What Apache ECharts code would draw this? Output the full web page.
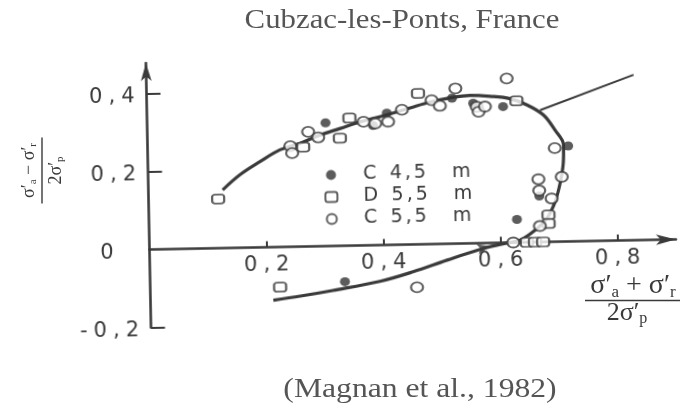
<!DOCTYPE html>
<html>
<head>
<meta charset="utf-8">
<script src="https://cdn.jsdelivr.net/npm/echarts@6/dist/echarts.min.js"></script>
<style>
  html, body { margin: 0; padding: 0; background: #fff; }
  #wrap { position: relative; width: 680px; height: 412px; overflow: hidden; }
  #base, #plot { position: absolute; left: 0; top: 0; width: 680px; height: 412px; }
  /* the stress-path plot sits slightly tilted on the page */
  #plot { transform: rotate(-1.1deg); transform-origin: 149.5px 249.5px; }
</style>
</head>
<body>
<div id="wrap"><div id="base"></div><div id="plot"></div></div>
<script>
// Stress paths, Cubzac-les-Ponts: x = (σ'a+σ'r)/2σ'p, y = (σ'a−σ'r)/2σ'p
const xTicks = [0.2, 0.4, 0.6, 0.8];
const yTicks = [-0.2, 0.2, 0.4];
const yLabels = [-0.2, 0, 0.2, 0.4];

// C 4,5 m (filled dots)
const c45 = [[0.305,0.316],[0.386,0.307],[0.410,0.338],[0.522,0.373],[0.558,0.359],
             [0.609,0.349],[0.719,0.245],[0.668,0.118],[0.629,0.059],[0.333,-0.092]];
// D 5,5 m (open squares)
const d55 = [[0.119,0.126],[0.222,-0.103],[0.266,0.255],[0.329,0.276],[0.346,0.327],
             [0.464,0.387],[0.632,0.363],[0.683,0.069],[0.683,0.047],[0.645,0.0],
             [0.659,0.0],[0.673,0.0]];
// C 5,5 m (open circles)
const c55 = [[0.244,0.258],[0.247,0.240],[0.275,0.294],[0.292,0.279],[0.370,0.317],
             [0.390,0.312],[0.412,0.316],[0.436,0.346],[0.487,0.369],[0.501,0.354],
             [0.528,0.398],[0.564,0.350],[0.567,0.337],[0.578,0.350],[0.616,0.421],
             [0.696,0.240],[0.707,0.166],[0.667,0.161],[0.668,0.132],[0.689,0.111],
             [0.668,0.041],[0.622,0.0],[0.456,-0.110]];
// fitted limit-state curve
const curve = [[0.127,0.149],[0.157,0.187],[0.192,0.220],[0.226,0.249],[0.261,0.265],
               [0.295,0.285],[0.330,0.301],[0.364,0.317],[0.390,0.326],[0.416,0.336],
               [0.450,0.350],[0.484,0.364],[0.519,0.374],[0.553,0.379],[0.587,0.376],
               [0.621,0.369],[0.650,0.352],[0.678,0.325],[0.697,0.286],[0.711,0.248],
               [0.710,0.201],[0.704,0.150],[0.695,0.103],[0.680,0.060],[0.660,0.031],
               [0.634,0.006],[0.604,-0.003],[0.565,-0.016],[0.508,-0.042],[0.450,-0.070],
               [0.393,-0.093],[0.312,-0.114],[0.256,-0.127],[0.210,-0.136]];
// K0 line leaving the curve
const k0Line = [[0.672,0.338],[0.833,0.424]];
// direction arrow on the lower branch
const arrowMark = [[0.582,-0.008]];

const INK = '#3a3a3a';
const SANS = '"DejaVu Sans", sans-serif';
const SERIF = '"Liberation Serif", "Times New Roman", serif';

function tickText(v) {
  if (Math.abs(v) < 1e-9) return '{z|0}';
  return v.toFixed(1).replace('.', ',').split('').map(ch => '{t|' + ch + '}').join('');
}

// ---------- page layer: title, source, axis quantities ----------
const base = echarts.init(document.getElementById('base'), null, { renderer: 'canvas' });
const fracRich = (size) => ({
  s: { fontSize: size, fontFamily: SERIF, fill: INK, color: INK, lineHeight: size + 2 },
  p: { fontSize: size, fontFamily: SERIF, fill: INK, color: INK, lineHeight: size + 2 },
  b: { fontSize: Math.round(size * 0.6), fontFamily: SERIF, fill: INK, color: INK,
       lineHeight: Math.round(size * 0.6), verticalAlign: 'bottom' },
  o: { fontSize: size, fontFamily: SERIF, fill: INK, color: INK, lineHeight: size + 2 }
});
const numer = '{s|σ}{p|′}{b|a}{o| + }{s|σ}{p|′}{b|r}';
const numerY = '{s|σ}{p|′}{b|a}{o| − }{s|σ}{p|′}{b|r}';
const denom = '{o|2}{s|σ}{p|′}{b|p}';
base.setOption({
  animation: false,
  backgroundColor: '#fff',
  graphic: [
    { type: 'text', x: 402, y: 21, scaleX: 1.1,
      style: { text: 'Cubzac-les-Ponts, France', font: '28px ' + SERIF, fill: '#555',
               align: 'center', verticalAlign: 'middle', textAlign: 'center', textVerticalAlign: 'middle' } },
    { type: 'text', x: 420, y: 390, scaleX: 1.13,
      style: { text: '(Magnan et al., 1982)', font: '28px ' + SERIF, fill: '#555',
               align: 'center', verticalAlign: 'middle', textAlign: 'center', textVerticalAlign: 'middle' } },
    { type: 'text', x: 633, y: 286,
      style: { text: numer, rich: fracRich(28), align: 'center', verticalAlign: 'middle',
               textAlign: 'center', textVerticalAlign: 'middle' } },
    { type: 'line', shape: { x1: 585, y1: 300.5, x2: 680, y2: 300.5 },
      style: { stroke: INK, lineWidth: 1.6 } },
    { type: 'text', x: 627, y: 313,
      style: { text: denom, rich: fracRich(26), align: 'center', verticalAlign: 'middle',
               textAlign: 'center', textVerticalAlign: 'middle' } },
    { type: 'group', x: 42, y: 170.5, rotation: Math.PI / 2,
      children: [
        { type: 'text', x: 0, y: -13,
          style: { text: numerY, rich: fracRich(18), align: 'center', verticalAlign: 'middle',
                   textAlign: 'center', textVerticalAlign: 'middle' } },
        { type: 'line', shape: { x1: -33, y1: 0, x2: 33, y2: 0 },
          style: { stroke: INK, lineWidth: 1.4 } },
        { type: 'text', x: 0, y: 14,
          style: { text: denom, rich: fracRich(18), align: 'center', verticalAlign: 'middle',
                   textAlign: 'center', textVerticalAlign: 'middle' } }
      ] }
  ]
});

// ---------- plot layer ----------
const chart = echarts.init(document.getElementById('plot'), null, { renderer: 'canvas' });
const digit = { fontSize: 21, fontFamily: SANS, color: INK };
const openStyle = { color: '#fff', borderColor: INK, borderWidth: 2 };
const lg = { fontSize: 19, fontFamily: SANS, color: INK, lineHeight: 19 };
const legendRich = {
  a: Object.assign({ padding: [0, 6, 0, 21] }, lg),
  d: Object.assign({ padding: [0, 1.5] }, lg),
  e: Object.assign({ padding: [0, 20, 0, 1.5] }, lg),
  m: Object.assign({}, lg)
};
chart.setOption({
  animation: false,
  backgroundColor: 'transparent',
  grid: { left: 149.5, top: 63.1, width: 526.5, height: 264.4 },
  legend: {
    orient: 'vertical', left: 325.4, top: 169, padding: 0,
    itemWidth: 12, itemHeight: 10, itemGap: 3, symbolKeepAspect: false,
    data: [
      { name: 'C 4,5 m', icon: 'circle', itemStyle: { color: '#333', borderWidth: 0 } },
      { name: 'D 5,5 m', icon: 'roundRect', itemStyle: openStyle },
      { name: 'C 5,5 m', icon: 'circle', itemStyle: openStyle }
    ],
    formatter: function (name) {
      const parts = name.split(' ');
      const chars = parts[1].split('');
      const mid = chars.map((ch, i) => (i === chars.length - 1 ? '{e|' : '{d|') + ch + '}').join('');
      return '{a|' + parts[0] + '} ' + mid + ' {m|' + parts[2] + '}';
    },
    textStyle: Object.assign({ rich: legendRich }, lg)
  },
  xAxis: {
    type: 'value', min: 0, max: 0.9,
    splitLine: { show: false },
    axisLine: { show: true, onZero: true, symbol: ['none', 'arrow'], symbolSize: [8, 20],
                lineStyle: { color: INK, width: 2.6 } },
    axisTick: { show: true, inside: true, length: 6, customValues: xTicks,
                lineStyle: { color: INK, width: 2 } },
    // labels hang just under the zero line rather than under the plot's lower edge
    axisLabel: { customValues: xTicks, margin: -70, formatter: tickText,
                 rich: { t: Object.assign({ padding: [0, 3] }, digit),
                         z: Object.assign({ padding: [0, 3] }, digit) } }
  },
  yAxis: {
    type: 'value', min: -0.2, max: 0.478,
    splitLine: { show: false },
    axisLine: { show: true, symbol: ['none', 'arrow'], symbolSize: [8, 18],
                lineStyle: { color: INK, width: 2.6 } },
    axisTick: { show: true, inside: true, length: 14, customValues: yTicks,
                lineStyle: { color: INK, width: 2 } },
    axisLabel: { customValues: yLabels, margin: 9, formatter: tickText,
                 rich: { t: Object.assign({ padding: [6, 3, 0, 3] }, digit),
                         z: Object.assign({ padding: [6, 27, 0, 3] }, digit) } }
  },
  series: [
    { type: 'line', data: curve, smooth: 0.35, showSymbol: false, silent: true, z: 2,
      lineStyle: { color: INK, width: 3.2 } },
    { type: 'line', data: k0Line, showSymbol: false, silent: true, z: 2,
      lineStyle: { color: INK, width: 2 } },
    { type: 'scatter', data: arrowMark, symbol: 'arrow', symbolSize: [8, 13], symbolRotate: -77,
      silent: true, z: 3, itemStyle: { color: INK } },
    { name: 'C 4,5 m', type: 'scatter', data: c45, symbol: 'circle', symbolSize: [10, 9], z: 4,
      itemStyle: { color: '#333' } },
    { name: 'D 5,5 m', type: 'scatter', data: d55, symbol: 'roundRect', symbolSize: [12, 9], z: 4,
      itemStyle: openStyle },
    { name: 'C 5,5 m', type: 'scatter', data: c55, symbol: 'circle', symbolSize: [12, 10], z: 4,
      itemStyle: openStyle }
  ]
});
</script>
</body>
</html>
